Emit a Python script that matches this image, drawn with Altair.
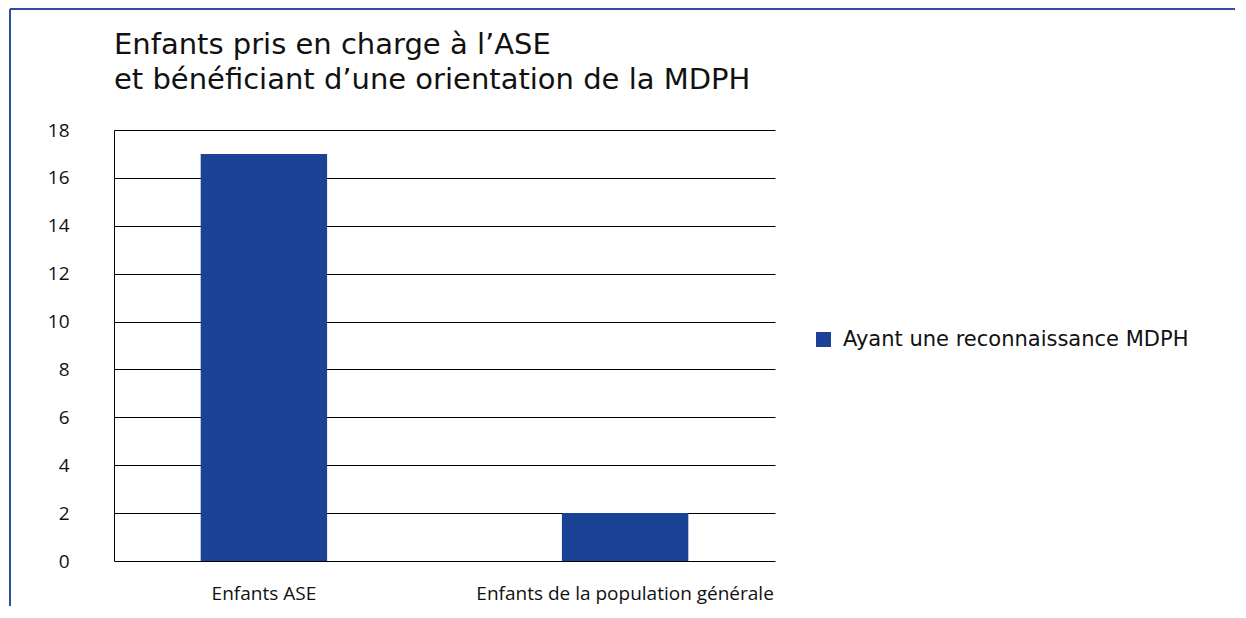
import altair as alt
import pandas as pd

categories = ["Enfants ASE", "Enfants de la population générale"]
values = [17, 2]
series = ["Ayant une reconnaissance MDPH", "Ayant une reconnaissance MDPH"]
y_ticks = [0, 2, 4, 6, 8, 10, 12, 14, 16, 18]
title_lines = ["Enfants pris en charge à l\u2019ASE", "et bénéficiant d\u2019une orientation de la MDPH"]

df = pd.DataFrame({"cat": categories, "val": values, "serie": series})

BLUE = "#1b4395"
FRAME = "#2c4f9e"

bars = alt.Chart(df).mark_bar(color=BLUE).encode(
    x=alt.X("cat:N", sort=categories, title=None,
            scale=alt.Scale(paddingInner=0.65, paddingOuter=0.24),
            axis=alt.Axis(labelAngle=0, domain=False, ticks=False, labelPadding=23,
                          labelFontSize=19, labelFont="Open Sans", labelColor="#111",
                          labelLimit=0)),
    y=alt.Y("val:Q", title=None,
            scale=alt.Scale(domain=[0, 18], nice=False),
            axis=alt.Axis(values=y_ticks, grid=True, gridColor="#000", gridOpacity=1,
                          gridWidth=1, domain=True, domainColor="#000", ticks=False,
                          labelPadding=45, labelFontSize=19, labelFont="Open Sans",
                          labelColor="#111")),
    color=alt.Color("serie:N", scale=alt.Scale(range=[BLUE]),
                    legend=alt.Legend(title=None, orient="none", legendX=699, legendY=199,
                                      symbolType="square", symbolSize=225,
                                      symbolStrokeWidth=0, labelFontSize=21,
                                      labelFont="DejaVu Sans", labelColor="#111",
                                      labelOffset=9, padding=0, labelLimit=0)),
)

frame_df = pd.DataFrame({"a": [0]})
left_line = alt.Chart(frame_df).mark_rule(color=FRAME, strokeWidth=2).encode(
    x=alt.value(-104), y=alt.value(-121), y2=alt.value(520))
top_line = alt.Chart(frame_df).mark_rule(color=FRAME, strokeWidth=2).encode(
    x=alt.value(-104), x2=alt.value(1200), y=alt.value(-121))

chart = alt.layer(bars, left_line, top_line).properties(
    width=661, height=431,
    title=alt.TitleParams(title_lines, anchor="start", frame="group", fontSize=29,
                          fontWeight="normal", font="DejaVu Sans", color="#111",
                          lineHeight=35, offset=-87),
    autosize=alt.AutoSizeParams(type="none"),
    padding={"left": 106, "top": 122, "right": 460, "bottom": 45},
).configure_view(stroke=None).configure_axis(grid=False)

chart.save("out.html", embed_options={"renderer": "svg", "actions": False})
